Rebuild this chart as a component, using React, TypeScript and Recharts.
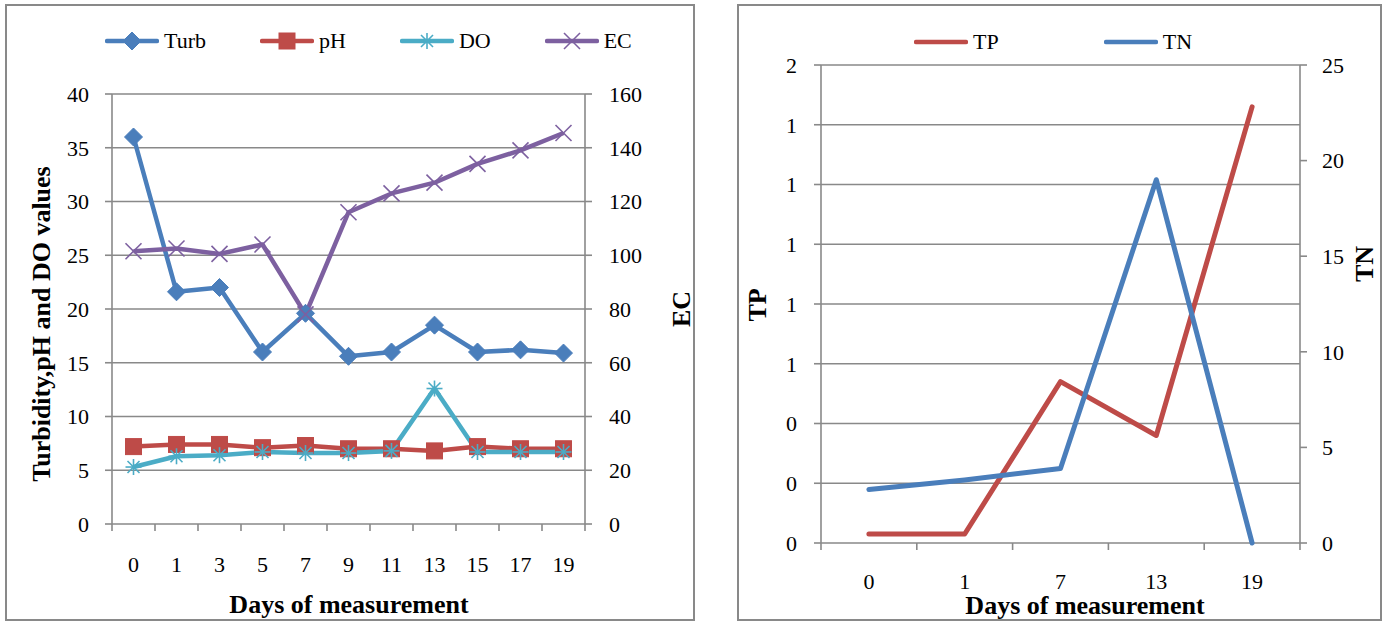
import React from 'react';
import { LineChart, Line, XAxis, YAxis, CartesianGrid } from 'recharts';

// ---------- data ----------
const days = ['0', '1', '3', '5', '7', '9', '11', '13', '15', '17', '19'];
const turb = [36, 21.6, 22, 16, 19.6, 15.6, 16, 18.5, 16, 16.2, 15.9];
const ph = [7.2, 7.4, 7.4, 7.1, 7.3, 7.0, 7.0, 6.8, 7.2, 7.0, 7.0];
const dissolvedO2 = [5.3, 6.3, 6.4, 6.7, 6.6, 6.6, 6.8, 12.6, 6.7, 6.7, 6.7];
const ec = [101.5, 102.5, 100.5, 104, 78, 116, 123, 127, 134, 139, 145.5];
const leftTicks = [0, 5, 10, 15, 20, 25, 30, 35, 40];
const ecTicks = [0, 20, 40, 60, 80, 100, 120, 140, 160];

const nutrientDays = ['0', '1', '7', '13', '19'];
const tp = [0.03, 0.03, 0.54, 0.36, 1.46];
const tn = [2.8, 3.3, 3.9, 19.0, 0];
const tpTicks = [0, 0.2, 0.4, 0.6, 0.8, 1.0, 1.2, 1.4, 1.6];
const tnTicks = [0, 5, 10, 15, 20, 25];

const leftData = days.map((d, i) => ({ day: d, turb: turb[i], ph: ph[i], dox: dissolvedO2[i], ec: ec[i] }));
const rightData = nutrientDays.map((d, i) => ({ day: d, tp: tp[i], tn: tn[i] }));

// ---------- style ----------
const GRID = '#898989';
const FONT = 'Liberation Serif';
const BLUE = '#4a7ebb';
const RED = '#be4b48';
const CYAN = '#4bacc6';
const PURPLE = '#7d60a0';
const tickStyle = { fill: '#000', fontSize: 22, fontFamily: FONT };
const axisLineStyle = { stroke: GRID, strokeWidth: 1.6 };

// ---------- category tick: label at band centre, tick marks at band boundaries ----------
const makeCatTick = (margin: number, count: number) => (props: any) => {
  const { x, y, payload, index, width } = props;
  const off = payload && payload.offset > 0 ? payload.offset : width / count / 2;
  const axisY = y - margin;
  return (
    <g>
      <line x1={x - off} y1={axisY} x2={x - off} y2={axisY + 7} stroke={GRID} strokeWidth={1.6} />
      {index === count - 1 ? <line x1={x + off} y1={axisY} x2={x + off} y2={axisY + 7} stroke={GRID} strokeWidth={1.6} /> : null}
      <text x={x} y={y} dy="0.71em" textAnchor="middle" fill="#000" fontSize={22} fontFamily={FONT}>{payload.value}</text>
    </g>
  );
};

// ---------- markers ----------
const Diamond = ({ cx, cy, k }: any) => (
  <path key={k} d={`M${cx},${cy - 9}L${cx + 9},${cy}L${cx},${cy + 9}L${cx - 9},${cy}Z`} fill={BLUE} stroke={BLUE} strokeWidth={1} />
);
const Square = ({ cx, cy, k }: any) => (
  <rect key={k} x={cx - 8} y={cy - 8} width={16} height={16} fill={RED} stroke={RED} strokeWidth={1} />
);
const Asterisk = ({ cx, cy, k }: any) => (
  <g key={k} stroke={CYAN} strokeWidth={1.6}>
    <line x1={cx - 8} y1={cy} x2={cx + 8} y2={cy} />
    <line x1={cx} y1={cy - 8} x2={cx} y2={cy + 8} />
    <line x1={cx - 6} y1={cy - 6} x2={cx + 6} y2={cy + 6} />
    <line x1={cx - 6} y1={cy + 6} x2={cx + 6} y2={cy - 6} />
  </g>
);
const Cross = ({ cx, cy, k }: any) => (
  <g key={k} stroke={PURPLE} strokeWidth={1.6}>
    <line x1={cx - 8} y1={cy - 8} x2={cx + 8} y2={cy + 8} />
    <line x1={cx - 8} y1={cy + 8} x2={cx + 8} y2={cy - 8} />
  </g>
);

const dotFn = (M: any, name: string) => (props: any) => <M cx={props.cx} cy={props.cy} k={`${name}-${props.index}`} />;

// ---------- legend ----------
const LegendItem = ({ color, label, Marker }: any) => (
  <div style={{ display: 'flex', alignItems: 'center' }}>
    <svg width={54} height={22}>
      <line x1={2} y1={11} x2={52} y2={11} stroke={color} strokeWidth={4.5} strokeLinecap="round" />
      {Marker ? <Marker cx={27} cy={11} k="m" /> : null}
    </svg>
    <span style={{ marginLeft: 5, fontSize: 22, fontFamily: FONT, lineHeight: '22px', color: '#000' }}>{label}</span>
  </div>
);

const leftSeries = [
  { key: 'turb', label: 'Turb', color: BLUE, Marker: Diamond },
  { key: 'ph', label: 'pH', color: RED, Marker: Square },
  { key: 'dox', label: 'DO', color: CYAN, Marker: Asterisk },
  { key: 'ec', label: 'EC', color: PURPLE, Marker: Cross },
];
const rightSeries = [
  { key: 'tp', label: 'TP', color: RED },
  { key: 'tn', label: 'TN', color: BLUE },
];

const panelStyle = (left: number, width: number): React.CSSProperties => ({
  position: 'absolute', left, top: 4, width, height: 617, boxSizing: 'border-box',
  border: `2px solid ${GRID}`, background: '#fff',
});

export default function App() {
  return (
    <div style={{ position: 'absolute', left: 0, top: 0, width: 1390, height: 624, background: '#fff', overflow: 'hidden' }}>
      <div style={panelStyle(5, 690)} />
      <div style={panelStyle(737, 645)} />

      {/* Left chart */}
      <div style={{ position: 'absolute', left: 5, top: 4 }}>
        <LineChart width={690} height={617} data={leftData} margin={{ top: 90, right: 0, bottom: 96, left: 0 }}>
          <CartesianGrid xAxisId="cat" yAxisId="l" vertical={false} stroke={GRID} strokeWidth={1.6} />
          <XAxis xAxisId="cat" dataKey="day" scale="band" height={1} interval={0} tickLine={false} axisLine={false} tickSize={0} tickMargin={32} tick={makeCatTick(32, days.length)} />
          <YAxis yAxisId="l" orientation="left" width={107} domain={[0, 40]} ticks={leftTicks} interval={0} tickSize={7} tickMargin={16} tick={tickStyle} axisLine={axisLineStyle} tickLine={axisLineStyle} />
          <YAxis yAxisId="r" orientation="right" width={110} domain={[0, 160]} ticks={ecTicks} interval={0} tickSize={7} tickMargin={17} tick={tickStyle} axisLine={axisLineStyle} tickLine={axisLineStyle} />
          <Line xAxisId="cat" yAxisId="l" dataKey="turb" stroke={BLUE} strokeWidth={4.5} strokeLinejoin="round" dot={dotFn(Diamond, 'turb')} activeDot={false} isAnimationActive={false} />
          <Line xAxisId="cat" yAxisId="l" dataKey="ph" stroke={RED} strokeWidth={4.5} strokeLinejoin="round" dot={dotFn(Square, 'ph')} activeDot={false} isAnimationActive={false} />
          <Line xAxisId="cat" yAxisId="l" dataKey="dox" stroke={CYAN} strokeWidth={4.5} strokeLinejoin="round" dot={dotFn(Asterisk, 'dox')} activeDot={false} isAnimationActive={false} />
          <Line xAxisId="cat" yAxisId="r" dataKey="ec" stroke={PURPLE} strokeWidth={4.5} strokeLinejoin="round" dot={dotFn(Cross, 'ec')} activeDot={false} isAnimationActive={false} />
        </LineChart>
      </div>

      {/* Right chart */}
      <div style={{ position: 'absolute', left: 737, top: 4 }}>
        <LineChart width={645} height={617} data={rightData} margin={{ top: 61, right: 0, bottom: 77, left: 0 }}>
          <CartesianGrid xAxisId="cat" yAxisId="l" vertical={false} stroke={GRID} strokeWidth={1.6} />
          <XAxis xAxisId="cat" dataKey="day" scale="band" height={1} interval={0} tickLine={false} axisLine={false} tickSize={0} tickMargin={30} tick={makeCatTick(30, nutrientDays.length)} />
          <YAxis yAxisId="l" orientation="left" width={84} domain={[0, 1.6]} ticks={tpTicks} interval={0} tickSize={7} tickMargin={17} tick={tickStyle} tickFormatter={(v: number) => String(Math.round(v))} axisLine={axisLineStyle} tickLine={axisLineStyle} />
          <YAxis yAxisId="r" orientation="right" width={82} domain={[0, 25]} ticks={tnTicks} interval={0} tickSize={7} tickMargin={15} tick={tickStyle} axisLine={axisLineStyle} tickLine={axisLineStyle} />
          <Line xAxisId="cat" yAxisId="l" dataKey="tp" stroke={RED} strokeWidth={5} strokeLinejoin="round" strokeLinecap="round" dot={false} activeDot={false} isAnimationActive={false} />
          <Line xAxisId="cat" yAxisId="r" dataKey="tn" stroke={BLUE} strokeWidth={5} strokeLinejoin="round" strokeLinecap="round" dot={false} activeDot={false} isAnimationActive={false} />
        </LineChart>
      </div>

      {/* Legends */}
      <div style={{ position: 'absolute', left: 105, top: 30, display: 'flex', gap: 54 }}>
        {leftSeries.map((s) => <LegendItem key={s.key} color={s.color} label={s.label} Marker={s.Marker} />)}
      </div>
      <div style={{ position: 'absolute', left: 914, top: 31, display: 'flex', gap: 105 }}>
        {rightSeries.map((s) => <LegendItem key={s.key} color={s.color} label={s.label} />)}
      </div>

      {/* Axis titles */}
      <svg width={1390} height={624} style={{ position: 'absolute', left: 0, top: 0, pointerEvents: 'none' }}>
        <g fontFamily={FONT} fontWeight="bold" fontSize={26} fill="#000">
          <text transform="translate(41,324) rotate(-90)" textAnchor="middle" dominantBaseline="central">Turbidity,pH and DO values</text>
          <text x={349} y={613} textAnchor="middle">Days of measurement</text>
          <text transform="translate(681,309) rotate(-90)" textAnchor="middle" dominantBaseline="central">EC</text>
          <text transform="translate(757,305) rotate(-90)" textAnchor="middle" dominantBaseline="central">TP</text>
          <text transform="translate(1364,264) rotate(-90)" textAnchor="middle" dominantBaseline="central">TN</text>
          <text x={1085} y={614} textAnchor="middle">Days of measurement</text>
        </g>
      </svg>
    </div>
  );
}
